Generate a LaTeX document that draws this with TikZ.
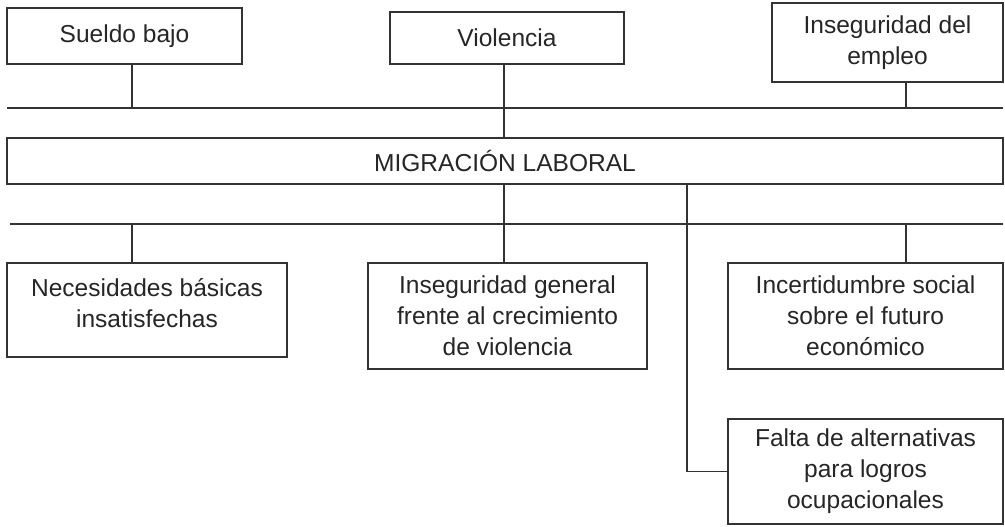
\documentclass[tikz,border=0pt]{standalone}
\usepackage{fontspec}
\setmainfont{Liberation Sans}
\begin{document}
\begin{tikzpicture}[x=0.75pt,y=-0.75pt,
  every node/.style={font=\fontsize{18.4pt}{23.25pt}\selectfont, text=black!85},
  cbox/.style={draw=black!80, line width=0.9pt, inner sep=0pt, align=center},
  link/.style={draw=black!80, line width=0.9pt}]
\useasboundingbox (0,0) rectangle (1005,526);
\fill[white] (0,0) rectangle (1005,526);
% top causes
\node[cbox, minimum width=176.25pt, minimum height=42pt] (sueldo) at (124.5,36) {Sueldo bajo};
\node[cbox, minimum width=175.5pt, minimum height=39pt] (viol) at (507,38) {Violencia};
\node[cbox, minimum width=173.25pt, minimum height=59.25pt] (empleo) at (887.5,42.5) {Inseguridad del\\empleo};
% central
\node[cbox, minimum width=747pt, minimum height=34.5pt] (mig) at (505,161) {MIGRACIÓN LABORAL};
% effects
\node[cbox, minimum width=210pt, minimum height=70.5pt] (neces) at (147,310) {Necesidades básicas\\insatisfechas\rule[-10pt]{0pt}{10pt}};
\node[cbox, minimum width=209.25pt, minimum height=79.5pt] (insgen) at (507.5,316) {Inseguridad general\\frente al crecimiento\\de violencia};
\node[cbox, minimum width=206.25pt, minimum height=79.5pt] (incert) at (865.5,316) {Incertidumbre social\\sobre el futuro\\económico};
\node[cbox, minimum width=206.25pt, minimum height=78.75pt] (falta) at (865.5,471.5) {Falta de alternativas\\para logros\\ocupacionales};
% bus coordinates
\coordinate (tL) at (7,108);
\coordinate (tR) at (1003,108);
\coordinate (t1) at (132,108);
\coordinate (v) at (504,108);
\coordinate (t3) at (906,108);
\coordinate (bL) at (10,224);
\coordinate (bR) at (1003,224);
\coordinate (b1) at (132,224);
\coordinate (b2) at (504,224);
\coordinate (b4) at (687,224);
\coordinate (b3) at (906,224);
% upper connectors
\draw[link] (tL) -- (tR);
\draw[link] (sueldo.south -| t1) -- (t1);
\draw[link] (v |- viol.south) -- (v |- mig.north);
\draw[link] (empleo.south -| t3) -- (t3);
% lower connectors
\draw[link] (bL) -- (bR);
\draw[link] (b1) -- (b1 |- neces.north);
\draw[link] (b2 |- mig.south) -- (b2 |- insgen.north);
\draw[link] (b3) -- (b3 |- incert.north);
\draw[link] (b4 |- mig.south) -- (b4 |- falta.west) -- (falta.west);
\end{tikzpicture}
\end{document}
